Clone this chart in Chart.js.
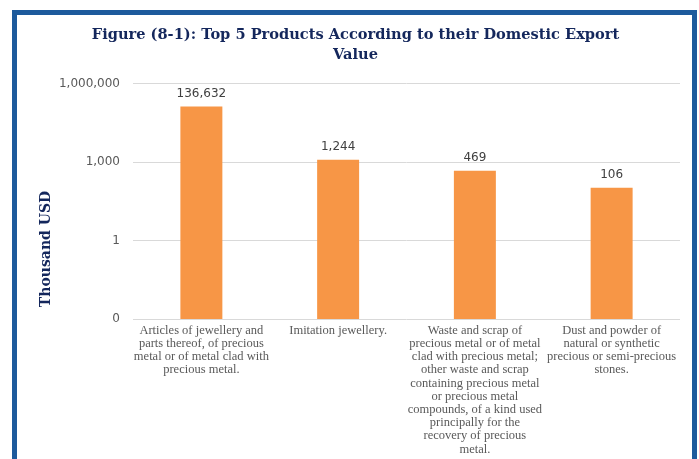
<!DOCTYPE html>
<html><head><meta charset="utf-8">
<script src="https://cdn.jsdelivr.net/npm/chart.js@4"></script>
<style>
html,body{margin:0;padding:0;background:#fff;width:699px;height:459px;overflow:hidden}
#wrap{position:absolute;left:0;top:0;width:699px;height:459px}
#frame{position:absolute;left:12px;top:10px;width:675px;height:470px;border:5px solid #1D5A9C;border-bottom:none;pointer-events:none}
</style></head><body>
<div id="wrap"><canvas id="c" width="699" height="459"></canvas></div>
<div id="frame"></div>
<script>
const titleLines = ["Figure (8-1): Top 5 Products According to their Domestic Export", "Value"];
const yAxisTitle = "Thousand USD";
const categories = [
  ["Articles of jewellery and", "parts thereof, of precious", "metal or of metal clad with", "precious metal."],
  ["Imitation jewellery."],
  ["Waste and scrap of", "precious metal or of metal", "clad with precious metal;", "other waste and scrap", "containing precious metal", "or precious metal", "compounds, of a kind used", "principally for the", "recovery of precious", "metal."],
  ["Dust and powder of", "natural or synthetic", "precious or semi-precious", "stones."]
];
const exportValues = [136632, 1244, 469, 106];
const yTickValues = [0.001, 1, 1000, 1000000];
const yTickLabels = ["0", "1", "1,000", "1,000,000"];

const NAVY = '#14275C';

const dataLabelPlugin = {
  id: 'dataLabels',
  afterDatasetsDraw(chart) {
    const ctx = chart.ctx;
    const meta = chart.getDatasetMeta(0);
    ctx.save();
    ctx.font = '12px "DejaVu Sans"';
    ctx.fillStyle = '#404040';
    ctx.textAlign = 'center';
    ctx.textBaseline = 'bottom';
    meta.data.forEach((bar, i) => {
      ctx.fillText(exportValues[i].toLocaleString('en-US'), bar.x, bar.y - 7);
    });
    ctx.restore();
  }
};

const yTitlePlugin = {
  id: 'yTitle',
  afterDraw(chart) {
    const ctx = chart.ctx;
    const area = chart.chartArea;
    ctx.save();
    ctx.translate(46, area.bottom - 70);
    ctx.rotate(-Math.PI / 2);
    ctx.font = 'bold 14px "DejaVu Serif"';
    ctx.fillStyle = NAVY;
    ctx.textAlign = 'center';
    ctx.textBaseline = 'middle';
    ctx.fillText(yAxisTitle, 0, 0);
    ctx.restore();
  }
};

new Chart(document.getElementById('c'), {
  type: 'bar',
  data: {
    labels: categories,
    datasets: [{
      data: exportValues,
      backgroundColor: '#F79646',
      borderWidth: 0,
      categoryPercentage: 1.0,
      barPercentage: 0.307
    }]
  },
  options: {
    responsive: false,
    animation: false,
    layout: { padding: { left: 31, right: 19, top: 15, bottom: 0 } },
    plugins: {
      legend: { display: false },
      tooltip: { enabled: false },
      title: {
        display: true,
        text: titleLines,
        color: NAVY,
        font: { family: 'DejaVu Serif', weight: 'bold', size: 14.6, lineHeight: 1.4 },
        padding: { top: 10, bottom: 18 }
      }
    },
    scales: {
      x: {
        grid: { display: false, drawTicks: false },
        border: { display: false },
        ticks: {
          color: '#595959',
          font: { family: 'Liberation Serif', size: 12.5, lineHeight: 1.056 },
          padding: 5,
          maxRotation: 0,
          autoSkip: false
        },
        afterFit(s) { s.height = 140; }
      },
      y: {
        type: 'logarithmic',
        min: yTickValues[0],
        max: yTickValues[yTickValues.length - 1],
        afterBuildTicks(s) { s.ticks = yTickValues.map(v => ({ value: v })); },
        ticks: {
          color: '#595959',
          font: { family: 'DejaVu Sans', size: 12 },
          padding: 13,
          callback: (v, i) => yTickLabels[i]
        },
        grid: { color: '#D9D9D9', drawTicks: false, lineWidth: 1 },
        border: { display: false },
        afterFit(s) { s.width = 102; }
      }
    }
  },
  plugins: [dataLabelPlugin, yTitlePlugin]
});
</script>
</body></html>
